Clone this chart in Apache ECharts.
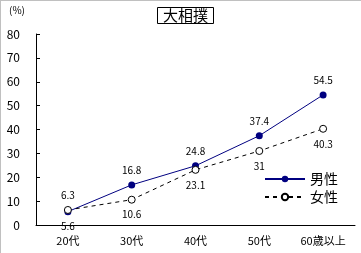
<!DOCTYPE html>
<html><head><meta charset="utf-8">
<script src="https://cdn.jsdelivr.net/npm/echarts@6/dist/echarts.min.js"></script>
<style>html,body{margin:0;padding:0;background:#fff}#c{width:361px;height:253px}</style>
</head><body><div id="c"></div>
<script>
const categories = ['20代','30代','40代','50代','60歳以上'];
const male = [5.6, 16.8, 24.8, 37.4, 54.5];
const female = [6.3, 10.6, 23.1, 31, 40.3];
const maleLabelPos = ['bottom','top','top','top','top'];
const femaleLabelPos = ['top','bottom','bottom','bottom','bottom'];
const yTicks = [0,10,20,30,40,50,60,70,80];
const font = '"Noto Sans CJK JP", sans-serif';

const chart = echarts.init(document.getElementById('c'), null, {renderer:'canvas'});
chart.setOption({
  animation:false,
  textStyle:{fontFamily:font},
  title:{text:'大相撲', left:157, top:7, padding:[1,6,1,6], borderColor:'#000', borderWidth:1,
    textStyle:{fontSize:15, fontWeight:'normal', color:'#000', fontFamily:font}},
  graphic:[
    {type:'line', shape:{x1:0,y1:0.5,x2:361,y2:0.5}, style:{stroke:'#c0c0c0',lineWidth:1}},
    {type:'line', shape:{x1:0.5,y1:0,x2:0.5,y2:253}, style:{stroke:'#c0c0c0',lineWidth:1}},
    {type:'text', left:9, top:5, style:{text:'(%)', fontSize:10, fill:'#000', fontFamily:font}}
  ],
  legend:{orient:'vertical', left:264, top:172, padding:0, itemWidth:40, itemHeight:8, itemGap:4,
    textStyle:{fontSize:14, color:'#000', fontFamily:font},
    data:['男性','女性']},
  grid:{left:36, right:6, top:34, bottom:28},
  xAxis:{type:'category', data:categories, boundaryGap:true,
    axisLine:{lineStyle:{color:'#000', width:1}},
    axisTick:{inside:true, length:4, lineStyle:{color:'#000'}},
    axisLabel:{color:'#000', fontSize:11, margin:10, fontFamily:font}},
  yAxis:{type:'value', min:0, max:80, interval:10,
    axisLine:{show:true, lineStyle:{color:'#000', width:1}},
    axisTick:{show:true, inside:true, length:4, lineStyle:{color:'#000'}},
    splitLine:{show:false},
    axisLabel:{color:'#000', fontSize:12, margin:16, fontFamily:font,
      formatter:v=>yTicks.includes(v)?String(v):''}},
  series:[
    {name:'男性', type:'line', data:male.map((v,i)=>({value:v, label:{position:maleLabelPos[i]}})),
      symbol:'circle', symbolSize:7,
      itemStyle:{color:'#000080'}, lineStyle:{color:'#000080', width:1},
      label:{show:true, color:'#000', fontSize:10, distance:6}},
    {name:'女性', type:'line', data:female.map((v,i)=>({value:v, label:{position:femaleLabelPos[i]}})),
      symbol:'circle', symbolSize:7,
      itemStyle:{color:'#fff', borderColor:'#000', borderWidth:1}, lineStyle:{color:'#000', width:1, type:[4,4]},
      label:{show:true, color:'#000', fontSize:10, distance:6}}
  ]
});
</script></body></html>
